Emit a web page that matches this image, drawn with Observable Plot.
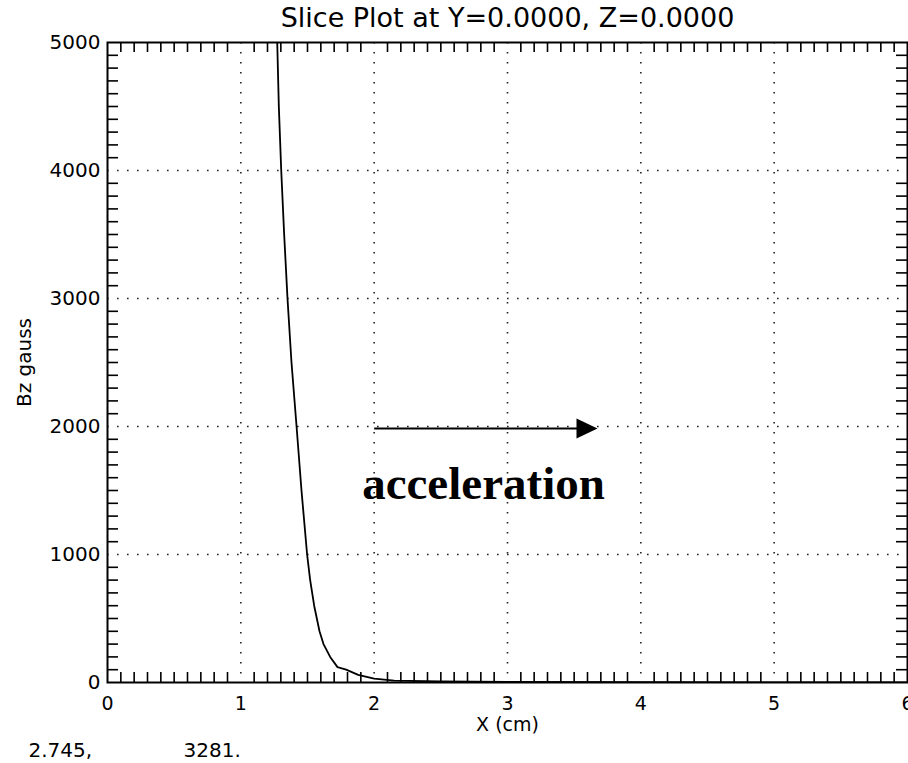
<!DOCTYPE html>
<html>
<head>
<meta charset="utf-8">
<script src="https://cdn.jsdelivr.net/npm/d3@7"></script>
<script src="https://cdn.jsdelivr.net/npm/@observablehq/plot@0.6"></script>
<style>
  html, body { margin: 0; padding: 0; background: #fff; }
  #chart svg { display: block; }
</style>
</head>
<body>
<div id="chart"></div>
<script>
// Bz along the X axis (Y = 0, Z = 0)
const xCm = [1.273, 1.285, 1.303, 1.325, 1.350, 1.380, 1.418, 1.455, 1.497, 1.520,
             1.550, 1.590, 1.620, 1.670, 1.725, 1.790, 1.880, 2.00, 2.15, 2.5,
             3.0, 4.0, 5.0, 6.0];
const bzGauss = [5000, 4500, 4000, 3500, 3000, 2500, 2000, 1500, 1000, 800,
                 600, 400, 300, 200, 120, 100, 60, 30, 15, 8,
                 4, 2, 1, 0];

// axis ticks
const xMajorTicks = [0, 1, 2, 3, 4, 5, 6];
const yMajorTicks = [0, 1000, 2000, 3000, 4000, 5000];
const xGridTicks = [1, 2, 3, 4, 5];
const yGridTicks = [1000, 2000, 3000, 4000];
const xMinorTicks = d3.range(1, 60).filter(i => i % 10 !== 0).map(i => i / 10);
const yMinorTicks = d3.range(1, 50).filter(i => i % 10 !== 0).map(i => i * 100);

// annotation
const arrowFrom = [2.0, 1985];
const arrowTo = [3.675, 1985];
const noteText = ["acceleration"];
const noteAt = [2.82, 1555];
const titleText = ["Slice Plot at Y=0.0000, Z=0.0000"];
const xLabel = ["X (cm)"];
const yLabel = ["Bz gauss"];
const cursorReadout = ["2.745,", "3281."];

const series = xCm.map((x, i) => ({x, y: bzGauss[i]}));

const W = 908, H = 763;
const mL = 107, mT = 42, mR = 1, mB = 81;
const innerW = W - mL - mR, innerH = H - mT - mB;
const tickLen = 10;

const labelFont = "DejaVu Sans";

// filled arrowhead with its tip at the anchor point
const arrowHead = {
  draw(context, size) {
    const r = Math.sqrt(size / Math.PI);
    context.moveTo(0, 0);
    context.lineTo(-2.1 * r, -r);
    context.lineTo(-2.1 * r, r);
    context.closePath();
  }
};

const txt = {fill: "#000", lineAnchor: "middle"};

const chart = Plot.plot({
  width: W,
  height: H,
  marginLeft: mL,
  marginTop: mT,
  marginRight: mR,
  marginBottom: mB,
  style: {background: "#fff", fontFamily: labelFont, color: "#000", overflow: "visible"},
  x: {domain: [0, 6], axis: null},
  y: {domain: [0, 5000], axis: null},
  marks: [
    // dotted grid at the major ticks
    Plot.gridX(xGridTicks, {stroke: "#222", strokeOpacity: 1, strokeWidth: 1.6, strokeDasharray: "1.6,8.4"}),
    Plot.gridY(yGridTicks, {stroke: "#222", strokeOpacity: 1, strokeWidth: 1.6, strokeDasharray: "1.6,8.4"}),
    // minor ticks pointing inward on all four sides
    Plot.tickX(xMinorTicks, {x: d => d, insetBottom: innerH - tickLen, stroke: "#000", strokeWidth: 1.6}),
    Plot.tickX(xMinorTicks, {x: d => d, insetTop: innerH - tickLen, stroke: "#000", strokeWidth: 1.6}),
    Plot.tickY(yMinorTicks, {y: d => d, insetRight: innerW - tickLen - 1, stroke: "#000", strokeWidth: 1.6}),
    Plot.tickY(yMinorTicks, {y: d => d, insetLeft: innerW - tickLen - 1, stroke: "#000", strokeWidth: 1.6}),
    // field profile
    Plot.line(series, {x: "x", y: "y", stroke: "#000", strokeWidth: 1.8, clip: true}),
    Plot.frame({stroke: "#000", strokeWidth: 2}),
    // tick labels
    Plot.text(xMajorTicks, {...txt, x: d => d, frameAnchor: "bottom", dy: 21, textAnchor: "middle", text: d => String(d), fontSize: 19}),
    Plot.text(yMajorTicks, {...txt, y: d => d, frameAnchor: "left", dx: -7, textAnchor: "end", text: d => String(d), fontSize: 20}),
    // titles
    Plot.text(titleText, {...txt, frameAnchor: "top", dy: -24, textAnchor: "middle", text: d => d, fontSize: 27}),
    Plot.text(xLabel, {...txt, frameAnchor: "bottom", dy: 42, textAnchor: "middle", text: d => d, fontSize: 19}),
    Plot.text(yLabel, {...txt, frameAnchor: "left", dx: -83, rotate: -90, textAnchor: "middle", text: d => d, fontSize: 20}),
    // cursor readout below the plot
    Plot.text([cursorReadout[0]], {...txt, frameAnchor: "bottom-left", dx: -79, dy: 68, textAnchor: "start", text: d => d, fontSize: 20}),
    Plot.text([cursorReadout[1]], {...txt, frameAnchor: "bottom-left", dx: 76, dy: 68, textAnchor: "start", text: d => d, fontSize: 20}),
    // acceleration arrow and label
    Plot.link([0], {x1: () => arrowFrom[0], y1: () => arrowFrom[1], x2: () => arrowTo[0] - 0.1, y2: () => arrowTo[1], stroke: "#000", strokeWidth: 2}),
    Plot.dot([0], {x: () => arrowTo[0], y: () => arrowTo[1], symbol: arrowHead, r: 10, fill: "#000", stroke: "none"}),
    Plot.text(noteText, {x: () => noteAt[0], y: () => noteAt[1], text: d => d, fontFamily: "Liberation Serif", fontWeight: "bold", fontSize: 47, fill: "#000"})
  ]
});

document.getElementById("chart").append(chart);
</script>
</body>
</html>
